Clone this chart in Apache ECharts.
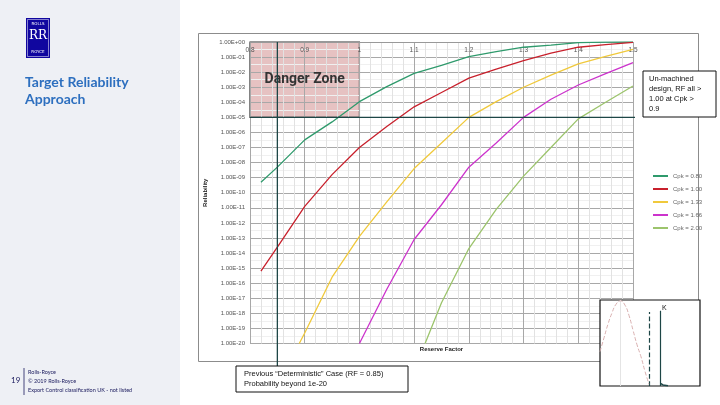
<!DOCTYPE html>
<html>
<head>
<meta charset="utf-8">
<script src="https://cdn.jsdelivr.net/npm/echarts@6/dist/echarts.min.js"></script>
<style>
  html, body { margin: 0; padding: 0; background: #fff; }
  #chart { width: 720px; height: 405px; }
</style>
</head>
<body>
<div id="chart"></div>
<script>
// reliability curves (log scale, 1e0 .. 1e-20)
var reserveFactor = [0.82, 0.85, 0.89, 0.9, 0.95, 1.0, 1.05, 1.1, 1.12, 1.15, 1.2, 1.25, 1.3, 1.35, 1.4, 1.45, 1.5];
var cpk080 = [5.0e-10, 5.0e-9, null, 3.2e-7, 5.0e-6, 1.1e-4, 1.1e-3, 8.3e-3, null, 2.8e-2, 0.107, 0.23, 0.45, 0.63, 0.91, 0.99, 1.0];
var cpk100 = [6.3e-16, 2.5e-14, null, 1.26e-11, 1.6e-9, 1.0e-7, 2.5e-6, 5.0e-5, null, 4.5e-4, 4.0e-3, 1.6e-2, 5.8e-2, 0.18, 0.45, 0.66, 0.93];
var cpk133 = [null, null, 1e-20, 5.0e-20, 2.5e-16, 1.26e-13, 2.5e-11, 4.0e-9, null, 2.0e-7, 1.0e-5, 1.1e-4, 1.0e-3, 6.3e-3, 3.5e-2, 0.11, 0.32];
var cpk166 = [null, null, null, null, null, 1e-20, 4.0e-17, 7.9e-14, null, 1.6e-11, 5.0e-9, 2.0e-7, 1.0e-5, 1.6e-4, 1.4e-3, 7.9e-3, 4.3e-2];
var cpk200 = [null, null, null, null, null, null, null, null, 1e-20, 5.0e-18, 2.0e-14, 7.9e-12, 1.26e-9, 1.0e-7, 7.9e-6, 1.0e-4, 1.2e-3];

var seriesNames = ["Cpk = 0.80", "Cpk = 1.00", "Cpk = 1.33", "Cpk = 1.66", "Cpk = 2.00"];
var seriesColors = ["#2f9a6c", "#c8202c", "#f0c93c", "#cc33cc", "#9cc46c"];

// danger zone + reference lines
var dangerRF = [0.8, 1.0];
var dangerRel = [1, 1e-5];
var targetRel = 1e-5;
var targetRF = [0.8, 1.517];      // runs out to the note box
var deterministicRF = 0.85;
var deterministicRel = [1, 3.2e-22]; // runs down to the note box

// small inset: strength distribution vs limit
var insetX = [0, 4, 8, 12, 16, 20.5, 25, 29, 33, 37, 41, 45, 49];
var insetDensity = [0.40, 0.56, 0.72, 0.85, 0.95, 0.99, 0.94, 0.82, 0.65, 0.48, 0.34, 0.17, 0.02];
var insetMean = 20.5;
var insetLimit = 49;
var insetK = 60;
var insetTailX = [60.5, 63, 68];
var insetTailY = [0.03, 0.012, 0.004];

function lg(v) { return Math.log10(v); }

var chart = echarts.init(document.getElementById("chart"));

var curves = [cpk080, cpk100, cpk133, cpk166, cpk200];
var series = curves.map(function (vals, i) {
  var pts = [];
  reserveFactor.forEach(function (rf, j) {
    if (vals[j] != null) pts.push([rf, lg(vals[j])]);
  });
  return {
    name: seriesNames[i],
    type: "line",
    xAxisIndex: 0,
    yAxisIndex: 0,
    data: pts,
    symbol: "none",
    z: 3,
    lineStyle: { width: 1.3, color: seriesColors[i] },
    itemStyle: { color: seriesColors[i] },
  };
});

var dangerBox = [[{ coord: [dangerRF[0], lg(dangerRel[0])] }, { coord: [dangerRF[1], lg(dangerRel[1])] }]];

// danger zone fill (under the grid lines)
series.push({
  name: "danger",
  type: "line",
  xAxisIndex: 0,
  yAxisIndex: 0,
  data: [],
  silent: true,
  markArea: {
    silent: true,
    z: -1,
    itemStyle: { color: "rgba(200,120,120,0.45)", borderColor: "#333", borderWidth: 1.2 },
    label: { show: false },
    data: dangerBox,
  },
});
// danger zone text (above the grid lines)
series.push({
  name: "dangerText",
  type: "line",
  xAxisIndex: 0,
  yAxisIndex: 0,
  data: [],
  silent: true,
  markArea: {
    silent: true,
    itemStyle: { color: "rgba(0,0,0,0)" },
    label: {
      show: true,
      position: "inside",
      formatter: "Danger Zone",
      fontFamily: "Roboto",
      fontSize: 14,
      fontWeight: "bold",
      color: "#333",
    },
    data: dangerBox,
  },
});

// target reliability line
series.push({
  name: "target",
  type: "line",
  xAxisIndex: 0,
  yAxisIndex: 0,
  clip: false,
  silent: true,
  symbol: "none",
  z: 4,
  data: [[targetRF[0], lg(targetRel)], [targetRF[1], lg(targetRel)]],
  lineStyle: { color: "#1d4646", width: 1.3 },
});

// deterministic RF line
series.push({
  name: "deterministic",
  type: "line",
  xAxisIndex: 0,
  yAxisIndex: 0,
  clip: false,
  silent: true,
  symbol: "none",
  z: 4,
  data: [[deterministicRF, lg(deterministicRel[0])], [deterministicRF, lg(deterministicRel[1])]],
  lineStyle: { color: "#1d4646", width: 1.3 },
});

// inset
series.push({
  name: "inset",
  type: "line",
  xAxisIndex: 2,
  yAxisIndex: 1,
  smooth: true,
  symbol: "none",
  silent: true,
  z: 7,
  data: insetX.map(function (x, i) { return [x, insetDensity[i]]; }),
  lineStyle: { color: "#d9b0b0", width: 1, type: "dashed" },
  markLine: {
    silent: true,
    symbol: "none",
    label: { show: false },
    data: [
      [{ coord: [insetMean, 0], lineStyle: { color: "#e4e4e4", width: 1, type: "solid" } }, { coord: [insetMean, 1] }],
      [{ coord: [insetLimit, 0], lineStyle: { color: "#1d4646", width: 1.2, type: "dashed" } }, { coord: [insetLimit, 0.86] }],
      [{ coord: [insetK, 0], lineStyle: { color: "#1d4646", width: 1.2, type: "solid" } }, { coord: [insetK, 0.875] }],
    ],
  },
});
series.push({
  name: "tail",
  type: "line",
  xAxisIndex: 2,
  yAxisIndex: 1,
  symbol: "none",
  silent: true,
  z: 7,
  data: insetTailX.map(function (x, i) { return [x, insetTailY[i]]; }),
  lineStyle: { color: "#1d4646", width: 1.5 },
});

function expLabel(v) {
  var e = Math.round(v);
  var a = Math.abs(e);
  return "1.00E" + (e < 0 ? "-" : "+") + (a < 10 ? "0" + a : "" + a);
}

var option = {
  backgroundColor: "#fff",
  animation: false,
  textStyle: { fontFamily: "Liberation Sans" },
  legend: {
    data: seriesNames,
    orient: "vertical",
    left: 648,
    top: 167,
    icon: "rect",
    itemWidth: 15,
    itemHeight: 2,
    itemGap: 5,
    textStyle: { fontSize: 6, color: "#666", lineHeight: 8 },
  },
  grid: [
    { left: 250, top: 42, width: 383, height: 301.5 },
    { left: 600, top: 300, width: 100, height: 86, show: true, backgroundColor: "#fff", borderColor: "#111", borderWidth: 1.2, z: 5 },
  ],
  xAxis: [
    {
      type: "value",
      gridIndex: 0,
      position: "top",
      min: 0.8,
      max: 1.5,
      interval: 0.1,
      axisLine: { show: true, lineStyle: { color: "#999" } },
      axisTick: { show: false },
      axisLabel: { inside: true, margin: 5, fontSize: 6.5, color: "#555" },
      splitLine: { show: true, lineStyle: { color: "#a8a8a8" } },
      minorTick: { show: false, splitNumber: 5 },
      minorSplitLine: { show: true, lineStyle: { color: "#e2e2e2" } },
    },
    {
      type: "value",
      gridIndex: 0,
      position: "bottom",
      min: 0.8,
      max: 1.5,
      name: "Reserve Factor",
      nameLocation: "middle",
      nameGap: 3,
      nameTextStyle: { fontSize: 6, fontWeight: "bold", color: "#222" },
      axisLine: { show: false },
      axisTick: { show: false },
      axisLabel: { show: false },
      splitLine: { show: false },
    },
    { type: "value", gridIndex: 1, min: 0, max: 100, show: false },
  ],
  yAxis: [
    {
      type: "value",
      gridIndex: 0,
      min: -20,
      max: 0,
      interval: 1,
      name: "Reliability",
      nameLocation: "middle",
      nameGap: 38,
      nameRotate: 90,
      nameTextStyle: { fontSize: 6, fontWeight: "bold", color: "#222" },
      axisLine: { show: false },
      axisTick: { show: false },
      axisLabel: { fontSize: 6, color: "#555", margin: 5, formatter: expLabel },
      splitLine: { show: true, lineStyle: { color: "#a8a8a8" } },
      minorTick: { show: false, splitNumber: 2 },
      minorSplitLine: { show: true, lineStyle: { color: "#f0f0f0" } },
    },
    { type: "value", gridIndex: 1, min: 0, max: 1, show: false },
  ],
  graphic: [
    // slide left panel
    { type: "rect", z: -10, shape: { x: 0, y: 0, width: 180, height: 405 }, style: { fill: "#eef0f5" } },
    // chart frame
    { type: "rect", z: -5, shape: { x: 198.5, y: 33.5, width: 500, height: 328 }, style: { fill: "none", stroke: "#8c8c8c", lineWidth: 1 } },
    // logo
    { type: "rect", z: 1, shape: { x: 26, y: 18, width: 24, height: 40 }, style: { fill: "#10069f" } },
    { type: "rect", z: 1, shape: { x: 27.5, y: 19.5, width: 21, height: 37 }, style: { fill: "none", stroke: "#fff", lineWidth: 0.5 } },
    { type: "text", z: 2, x: 38, y: 22, style: { text: "ROLLS", fill: "#fff", fontSize: 4, fontFamily: "DejaVu Sans", align: "center" } },
    { type: "text", z: 2, x: 38, y: 30, style: { text: "RR", fill: "#fff", fontSize: 12, fontFamily: "DejaVu Serif", align: "center" } },
    { type: "text", z: 2, x: 38, y: 50, style: { text: "ROYCE", fill: "#fff", fontSize: 4, fontFamily: "DejaVu Sans", align: "center" } },
    // slide title
    { type: "text", z: 2, left: 25, top: 74, style: { text: "Target Reliability\nApproach", fill: "#2d6fbf", fontSize: 14, fontWeight: "bold", fontFamily: "Lato", lineHeight: 17 } },
    // footer
    { type: "text", z: 2, left: 11, top: 376, style: { text: "19", fill: "#1b1b5e", fontSize: 8, fontFamily: "Lato" } },
    { type: "line", z: 2, shape: { x1: 24, y1: 368, x2: 24, y2: 395 }, style: { stroke: "#1b1b5e", lineWidth: 0.8 } },
    { type: "text", z: 2, left: 28, top: 368, style: { text: "Rolls-Royce\n\u00a9 2019 Rolls-Royce\nExport Control classification UK - not listed", fill: "#1b1b5e", fontSize: 5.5, fontFamily: "Lato", lineHeight: 9 } },
    // note: un-machined design
    { type: "rect", z: 10, shape: { x: 643, y: 71, width: 73, height: 46 }, style: { fill: "#fff", stroke: "#111", lineWidth: 1 } },
    { type: "text", z: 11, left: 649, top: 74, style: { text: "Un-machined\ndesign, RF all >\n1.00 at Cpk >\n0.9", fill: "#111", fontSize: 7.5, lineHeight: 10, fontFamily: "Liberation Sans" } },
    // note: previous deterministic case
    { type: "rect", z: 10, shape: { x: 236, y: 366, width: 172, height: 26 }, style: { fill: "#fff", stroke: "#111", lineWidth: 1 } },
    { type: "text", z: 11, left: 244, top: 369, style: { text: "Previous \u201cDeterministic\u201d Case (RF = 0.85)\nProbability beyond 1e-20", fill: "#111", fontSize: 7.5, lineHeight: 10, fontFamily: "Liberation Sans" } },
    // inset K label
    { type: "text", z: 11, left: 662, top: 305, style: { text: "K", fill: "#111", fontSize: 7, fontFamily: "Liberation Sans" } },
  ],
  series: series,
};

chart.setOption(option);
</script>
</body>
</html>
